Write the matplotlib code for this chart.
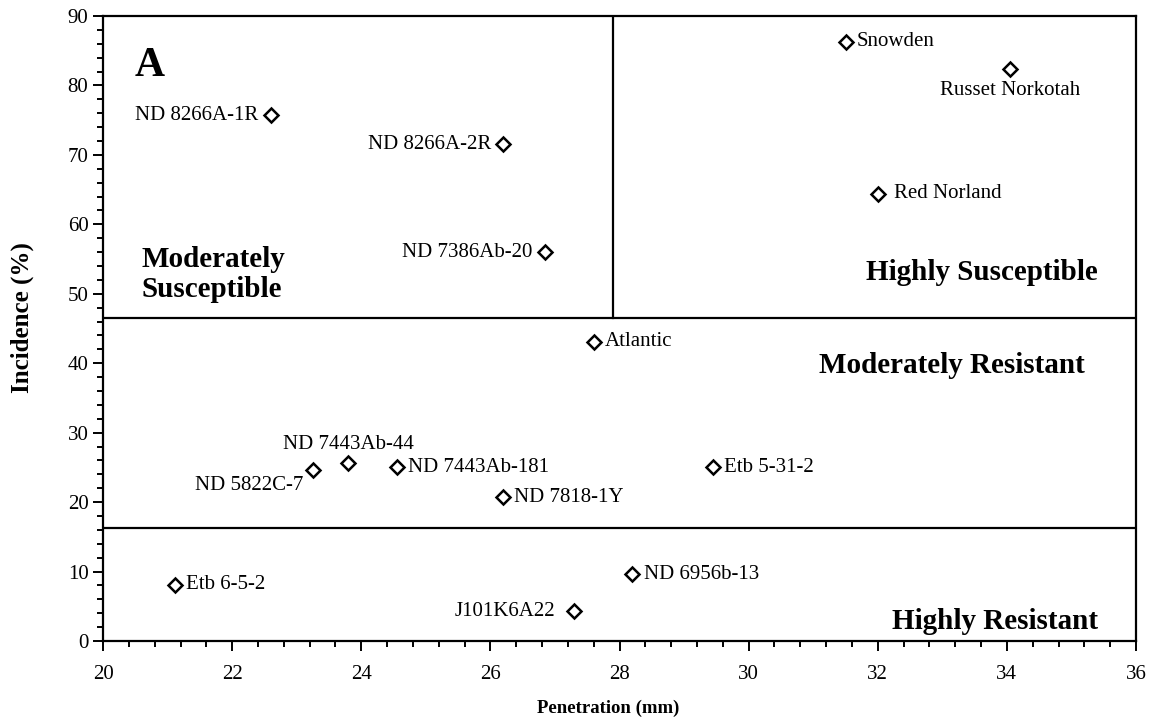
import numpy as np
import matplotlib
matplotlib.use("Agg")
import matplotlib.pyplot as plt
from matplotlib.ticker import MultipleLocator

plt.rcParams['font.family'] = ['Liberation Serif', 'DejaVu Serif']

# cultivar / clone data
names = ['ND 8266A-1R', 'ND 8266A-2R', 'ND 7386Ab-20', 'Snowden', 'Russet Norkotah',
         'Red Norland', 'Atlantic', 'ND 5822C-7', 'ND 7443Ab-44', 'ND 7443Ab-181',
         'ND 7818-1Y', 'Etb 5-31-2', 'Etb 6-5-2', 'ND 6956b-13', 'J101K6A22']
penetration = [22.6, 26.2, 26.85, 31.5, 34.05, 32.0, 27.6, 23.25, 23.8, 24.55,
               26.2, 29.45, 21.12, 28.2, 27.3]
incidence = [75.7, 71.5, 56.0, 86.3, 82.4, 64.4, 43.1, 24.6, 25.7, 25.0,
             20.7, 25.0, 8.1, 9.6, 4.3]

# category boundaries
incidence_hi = 46.5
incidence_lo = 16.3
penetration_split = 27.9

# label placement (offset in points, ha, va)
label_pos = {
    'ND 8266A-1R': ((-9, 0), 'right', 'center'),
    'ND 8266A-2R': ((-9, 0), 'right', 'center'),
    'ND 7386Ab-20': ((-9, 0), 'right', 'center'),
    'Snowden': ((8, 0), 'left', 'center'),
    'Russet Norkotah': ((0, -9), 'center', 'top'),
    'Red Norland': ((12, 0), 'left', 'center'),
    'Atlantic': ((8, 0), 'left', 'center'),
    'ND 5822C-7': ((-7, -4), 'right', 'top'),
    'ND 7443Ab-44': ((0, 6), 'center', 'bottom'),
    'ND 7443Ab-181': ((8, 0), 'left', 'center'),
    'ND 7818-1Y': ((8, 0), 'left', 'center'),
    'Etb 5-31-2': ((8, 0), 'left', 'center'),
    'Etb 6-5-2': ((8, 0), 'left', 'center'),
    'ND 6956b-13': ((8, 0), 'left', 'center'),
    'J101K6A22': ((-14, 0), 'right', 'center'),
}

fig = plt.figure(figsize=(11.59, 7.25), dpi=100)
ax = fig.add_axes([0.0889, 0.1159, 0.8913, 0.862])

ax.plot(penetration, incidence, linestyle='none', marker='D', markersize=7,
        markerfacecolor='white', markeredgecolor='black', markeredgewidth=1.8, zorder=3)

for n, x, y in zip(names, penetration, incidence):
    off, ha, va = label_pos[n]
    ax.annotate(n, (x, y), xytext=off, textcoords='offset points',
                ha=ha, va=va, fontsize=15)

ax.axhline(incidence_hi, color='black', lw=1.6)
ax.axhline(incidence_lo, color='black', lw=1.6)
ax.plot([penetration_split, penetration_split], [incidence_hi, 90], color='black', lw=1.6)

ax.text(0.031, 0.92, 'A', transform=ax.transAxes, fontsize=30, fontweight='bold',
        ha='left', va='center')
ax.text(0.037, 0.586, 'Moderately\nSusceptible', transform=ax.transAxes, fontsize=21,
        fontweight='bold', ha='left', va='center', linespacing=1.15)
ax.text(0.9625, 0.589, 'Highly Susceptible', transform=ax.transAxes, fontsize=21,
        fontweight='bold', ha='right', va='center')
ax.text(0.9505, 0.441, 'Moderately Resistant', transform=ax.transAxes, fontsize=21,
        fontweight='bold', ha='right', va='center')
ax.text(0.9635, 0.009, 'Highly Resistant', transform=ax.transAxes, fontsize=21,
        fontweight='bold', ha='right', va='bottom')

ax.set_xlim(20, 36)
ax.set_ylim(0, 90)
ax.xaxis.set_major_locator(MultipleLocator(2))
ax.xaxis.set_minor_locator(MultipleLocator(0.4))
ax.yaxis.set_major_locator(MultipleLocator(10))
ax.yaxis.set_minor_locator(MultipleLocator(2))
ax.tick_params(which='both', direction='out', width=1.4, labelsize=15)
ax.tick_params(which='major', length=7)
ax.tick_params(which='minor', length=4)
ax.tick_params(axis='x', pad=10)
for s in ax.spines.values():
    s.set_linewidth(1.6)

ax.set_xlabel('Penetration (mm)', fontsize=13.5, fontweight='bold', va='top')
ax.xaxis.set_label_coords(0.489, -0.094)
ax.set_ylabel('Incidence (%)', fontsize=18, fontweight='bold', va='center')
ax.yaxis.set_label_coords(-0.078, 0.518)

fig.savefig('out.png', dpi=100)
